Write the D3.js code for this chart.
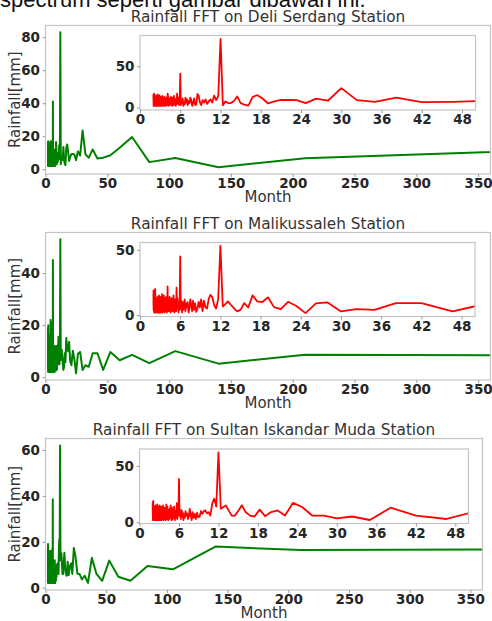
<!DOCTYPE html>
<html>
<head>
<meta charset="utf-8">
<script src="https://cdn.jsdelivr.net/npm/d3@7"></script>
<style>
  body { margin: 0; background: #fff; }
  svg { display: block; }
  text { font-family: "DejaVu Sans", sans-serif; }
</style>
</head>
<body>
<svg id="chart" width="492" height="621"></svg>
<script>
// record length in months; harmonic k has period recordLength / k
const recordLength = 420;

const stationNames = ['Deli Serdang', 'Malikussaleh', 'Sultan Iskandar Muda'];

// FFT amplitude [mm] for harmonics k = 1..210
const deliSerdang = [
  12, 6.7, 1.2, 6.8, 4.3, 19.5, 13, 8.5, 7, 6.5,
  12, 7, 9, 23.5, 8.3, 10.8, 5.5, 9, 9.2, 9.2,
  7.5, 5, 11, 15, 13, 2.5, 3.5, 5.5, 13.5, 8,
  5.5, 5.5, 7.5, 3, 83, 14, 9, 14.5, 6, 10,
  7.5, 4.5, 10, 6, 9, 3, 6, 14, 16.5, 4,
  3, 11, 6, 2, 9, 12, 5, 8, 3, 10,
  6, 12, 4, 7, 2, 11, 5, 8, 3, 41,
  8, 3, 12, 5, 9, 17, 4, 10, 2, 7,
  11, 5, 14, 3, 8, 6, 12, 2, 9, 5,
  13, 4, 7, 10, 3, 11, 6, 2, 9, 14,
  5, 17, 3, 8, 6, 12, 4, 10, 2, 7,
  11, 5, 9, 3, 13, 6, 8, 2, 10, 4,
  12, 7, 3, 9, 5, 14, 2, 8, 6, 11,
  4, 10, 3, 13, 7, 5, 9, 2, 12, 6,
  8, 3, 11, 5, 15, 4, 9, 6, 2, 10,
  7, 13, 3, 8, 5, 12, 2, 9, 6, 16,
  4, 10, 7, 3, 12, 5, 9, 2, 11, 6,
  14, 4, 8, 3, 10, 6, 13, 2, 9, 5,
  11, 7, 3, 12, 5, 9, 4, 15, 6, 2,
  10, 5, 13, 3, 8, 6, 11, 4, 14, 17,
  5, 9, 3, 12, 6, 15, 2, 10, 7, 16
];

const malikussaleh = [
  8.3, 8.6, 5.2, 10, 5.4, 8.6, 6.5, 9.7, 2.8, 9.2,
  9.2, 4, 4.6, 2.8, 9.7, 9, 1.5, 7, 10.2, 4.6,
  6.1, 13.6, 10, 10.5, 15.1, 5.8, 9.2, 4, 2.8, 5.3,
  7.9, 10.5, 8.4, 6.6, 53, 12, 5, 8, 14, 15.5,
  12, 5, 6, 11, 3, 12, 6, 10, 5, 2.5,
  9, 4, 11, 3, 8, 12, 5, 2, 10, 6,
  9, 3, 12, 7, 4, 10, 2, 11, 5, 45,
  4, 10, 2, 8, 13, 5, 21, 3, 9, 6,
  12, 2, 7, 15, 4, 10, 3, 8, 13, 5,
  9, 2, 11, 6, 14, 3, 8, 4, 12, 7,
  3, 22, 5, 10, 2, 9, 14, 4, 7, 11,
  3, 13, 6, 9, 2, 10, 5, 15, 4, 8,
  12, 3, 7, 11, 2, 9, 5, 16, 4, 10,
  6, 13, 3, 8, 11, 2, 9, 5, 14, 7,
  4, 10, 2, 12, 6, 9, 3, 15, 5, 8,
  11, 2, 7, 13, 4, 10, 6, 3, 12, 8,
  5, 14, 2, 9, 6, 11, 3, 8, 13, 4,
  10, 7, 3, 12, 5, 9, 4, 9, 2, 11,
  6, 13, 3, 8, 20, 4, 15, 2, 9, 6,
  12, 4, 7, 3, 11, 5, 14, 8, 2, 10,
  6, 13, 3, 9, 5, 12, 4, 19, 7, 16
];

const sultanIskandarMuda = [
  16.8, 16.4, 17.9, 8, 9.5, 3, 4.8, 11.8, 3, 6,
  13, 2.1, 5.2, 3.6, 6, 6.1, 13.6, 17.3, 6, 10.6,
  9.1, 5.5, 11.3, 5.2, 6, 9, 15.2, 10, 6, 6,
  10.6, 15, 13.6, 12, 62, 14, 21, 16.7, 6, 9,
  8, 10.6, 10, 7.6, 10, 5, 4.5, 8.5, 3, 7.5,
  4, 9, 2, 7, 12, 5, 3, 8, 6, 10,
  4, 7, 2, 9, 5, 11, 3, 8, 6, 38.5,
  6, 12, 3, 17, 8, 4, 10, 2, 9, 14,
  5, 11, 3, 7, 13, 2, 9, 6, 15, 4,
  8, 12, 3, 10, 5, 2, 11, 7, 14, 4,
  9, 3, 16, 6, 10, 2, 8, 12, 5, 7,
  13, 3, 9, 6, 11, 2, 15, 5, 8, 4,
  10, 7, 3, 12, 6, 14, 2, 9, 5, 11,
  4, 13, 7, 2, 10, 6, 15, 3, 8, 5,
  12, 2, 9, 6, 14, 4, 10, 3, 11, 7,
  5, 13, 2, 8, 16, 4, 9, 6, 12, 3,
  10, 7, 14, 2, 9, 5, 11, 4, 15, 6,
  3, 10, 8, 13, 2, 7, 12, 5, 9, 4,
  14, 6, 3, 11, 8, 2, 10, 5, 13, 7,
  4, 12, 9, 3, 15, 6, 10, 2, 8, 19,
  5, 11, 3, 14, 7, 2, 12, 6, 18, 9
];

const mainXTicks = [0, 50, 100, 150, 200, 250, 300, 350];
const insetXTicks = [0, 6, 12, 18, 24, 30, 36, 42, 48];
const mainYTicks = [[0, 20, 40, 60, 80], [0, 20, 40], [0, 20, 40, 60]];
const insetYTicks = [0, 50];

// layout of the three stacked panels (pixel boxes)
const layout = [
  { main: { l: 45.5, r: 490.5, t: 25.5, b: 174 }, inset: { l: 140, r: 475.5, t: 35.5, b: 110 } },
  { main: { l: 45.5, r: 490.5, t: 232.5, b: 380 }, inset: { l: 140, r: 475, t: 242.5, b: 316.5 } },
  { main: { l: 45.5, r: 482.5, t: 438.5, b: 590 }, inset: { l: 139.5, r: 468.5, t: 449, b: 523.5 } }
];

const svg = d3.select('#chart');

// the clipped sentence from the surrounding document
svg.append('text')
  .attr('x', 0).attr('y', 7)
  .style('font-family', '"Liberation Sans", Arial, sans-serif')
  .style('font-size', '22px')
  .attr('fill', '#111')
  .text('spectrum seperti gambar dibawah ini.');

function drawAxes(box, xDomain, yDomain, xTicks, yTicks, color, width, pts, id, filled) {
  const g = svg.append('g');
  const x = d3.scaleLinear().domain(xDomain).range([box.l, box.r]);
  const y = d3.scaleLinear().domain(yDomain).range([box.b, box.t]);

  if (filled) {
    g.append('rect')
      .attr('x', box.l).attr('y', box.t)
      .attr('width', box.r - box.l).attr('height', box.b - box.t)
      .attr('fill', '#fff');
  }

  g.append('clipPath').attr('id', id)
    .append('rect')
    .attr('x', box.l).attr('y', box.t)
    .attr('width', box.r - box.l).attr('height', box.b - box.t);

  const line = d3.line().x(d => x(d.period)).y(d => y(d.value));
  g.append('path')
    .datum(pts)
    .attr('clip-path', `url(#${id})`)
    .attr('d', line)
    .attr('fill', 'none')
    .attr('stroke', color)
    .attr('stroke-width', width)
    .attr('stroke-linejoin', 'round');

  g.append('rect')
    .attr('x', box.l).attr('y', box.t)
    .attr('width', box.r - box.l).attr('height', box.b - box.t)
    .attr('fill', 'none')
    .attr('stroke', '#c4c4c4')
    .attr('stroke-width', 1.2);

  const xAxis = g.append('g')
    .attr('transform', `translate(0,${box.b})`)
    .call(d3.axisBottom(x).tickValues(xTicks).tickSize(3).tickPadding(1.5));
  const yAxis = g.append('g')
    .attr('transform', `translate(${box.l},0)`)
    .call(d3.axisLeft(y).tickValues(yTicks).tickSize(3).tickPadding(2.5));

  [xAxis, yAxis].forEach(a => {
    a.select('.domain').remove();
    a.selectAll('line').attr('stroke', '#999');
    a.selectAll('text')
      .attr('fill', '#262626')
      .style('font-family', '"DejaVu Sans", sans-serif')
      .style('font-size', '13.5px')
      .style('font-weight', 'bold');
  });
}

[deliSerdang, malikussaleh, sultanIskandarMuda].forEach((amp, i) => {
  const pts = amp.map((v, j) => ({ period: recordLength / (j + 1), value: v }));
  const lo = d3.min(amp), hi = d3.max(amp);
  const pad = (hi - lo) * 0.05;
  const yDomain = [lo - pad, hi + pad];
  const { main, inset } = layout[i];

  drawAxes(main, [0, 360], yDomain, mainXTicks, mainYTicks[i], '#008000', 2, pts, 'clipMain' + i, false);
  drawAxes(inset, [0, 50], yDomain, insetXTicks, insetYTicks, '#ff0000', 1.8, pts, 'clipInset' + i, true);

  const cx = (main.l + main.r) / 2;
  svg.append('text')
    .attr('x', cx).attr('y', main.t - 4)
    .attr('text-anchor', 'middle')
    .attr('fill', '#333')
    .style('font-size', '15.3px')
    .text(`Rainfall FFT on ${stationNames[i]} Station`);

  svg.append('text')
    .attr('x', cx).attr('y', main.b + 28)
    .attr('text-anchor', 'middle')
    .attr('fill', '#333')
    .style('font-size', '15px')
    .text('Month');

  svg.append('text')
    .attr('transform', `translate(15,${(main.t + main.b) / 2}) rotate(-90)`)
    .attr('text-anchor', 'middle')
    .attr('dy', '0.35em')
    .attr('fill', '#333')
    .style('font-size', '15px')
    .text('Rainfall[mm]');
});
</script>
</body>
</html>
